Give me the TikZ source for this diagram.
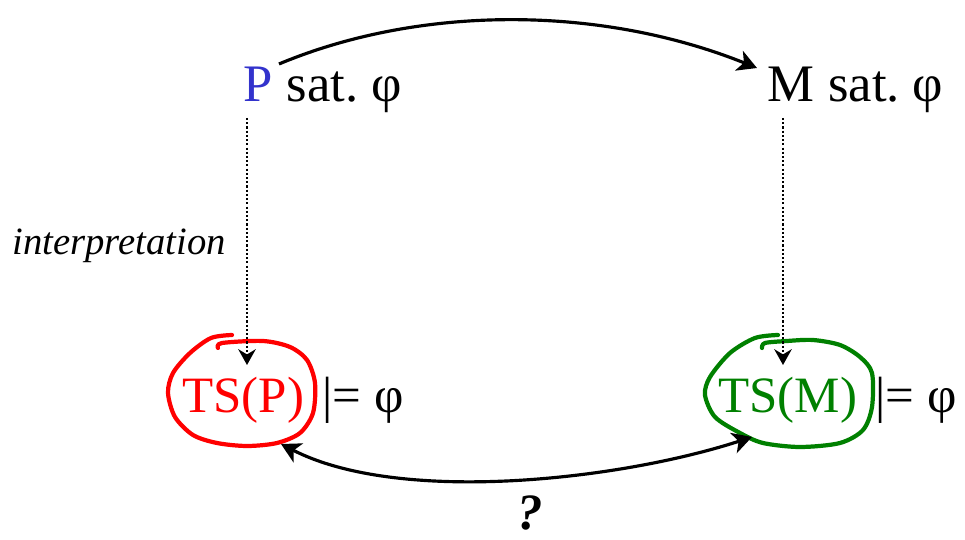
\documentclass[tikz,border=0pt]{standalone}
\usepackage{fontspec}
\setmainfont{Liberation Serif}
\newfontfamily\timesfont{Liberation Serif}
\usetikzlibrary{arrows.meta}

\definecolor{pblue}{RGB}{51,51,204}
\definecolor{tsred}{RGB}{255,0,0}
\definecolor{tsgreen}{RGB}{0,128,0}

\tikzset{
  txt/.style={font=\timesfont\fontsize{29}{35}\selectfont, inner sep=0pt, anchor=base west},
  toptxt/.style={txt, font=\timesfont\fontsize{30}{36}\selectfont},
  link/.style={-{Stealth[length=11pt,width=12pt,inset=3pt]}, line width=1.8pt},
  interp/.style={-{Stealth[length=9pt,width=10pt,inset=3pt]}, line width=1.2pt, dash pattern=on 1.2pt off 1.2pt},
  scribble/.style={line width=2.4pt, line cap=round, line join=round, smooth, tension=0.5},
}

\begin{document}
\begin{tikzpicture}[x=0.02cm, y=-0.02cm]
    \useasboundingbox (0,0) rectangle (965,540);

    % Proprieta' sul programma e sul modello
    \node[toptxt, text=pblue] (P) at (243,102) {P};
    \node[toptxt] (Psat) at (P.base east) {\ sat.\ φ};
    \node[toptxt] (M) at (767,102) {M};
    \node[toptxt] (Msat) at (M.base east) {\ sat.\ φ};

    % Sistemi di transizione
    \node[txt, text=tsred] (TSP) at (182,413) {TS(P)};
    \node[txt] (modP) at (322,413) {|= φ};
    \node[txt, text=tsgreen] (TSM) at (718,413) {TS(M)};
    \node[txt] (modM) at (875,413) {|= φ};

    % Etichette
    \node[txt, font=\timesfont\fontsize{22}{26}\selectfont\itshape] (interp) at (12,255) {interpretation};
    \node[txt, font=\timesfont\fontsize{29}{35}\selectfont\bfseries\itshape] (quest) at (517,530) {?};

    % Cerchi a mano libera
    \draw[scribble, tsred] plot coordinates {(218,348) (222,343) (263,341) (290,347) (307,360) (315,383) (313,413) (300,433) (277,443) (247,446) (217,443) (193,435) (175,417) (168,393) (173,373) (190,353) (211,338) (232,335)};
    \draw[scribble, tsgreen] plot coordinates {(762,348) (765,343) (787,341) (813,340) (840,345) (860,357) (872,373) (872,407) (863,430) (840,443) (800,447) (763,443) (740,433) (715,417) (705,395) (710,377) (730,353) (755,338) (778,335)};

    % Estremi delle frecce
    \coordinate (topL) at (279,64);
    \coordinate (topR) at (757,68);
    \coordinate (dLtop) at (247,118);
    \coordinate (dLbot) at (247,365);
    \coordinate (dRtop) at (783,118);
    \coordinate (dRbot) at (783,365);
    \coordinate (botL) at (281,444);
    \coordinate (botR) at (752,437);

    % Frecce
    \draw[link] (topL) .. controls (420,5) and (600,5) .. (topR);
    \draw[interp] (dLtop) -- (dLbot);
    \draw[interp] (dRtop) -- (dRbot);
    \draw[link, {Stealth[length=11pt,width=12pt,inset=3pt]}-{Stealth[length=11pt,width=12pt,inset=3pt]}] (botL) .. controls (400,505) and (620,480) .. (botR);

\end{tikzpicture}
\end{document}
